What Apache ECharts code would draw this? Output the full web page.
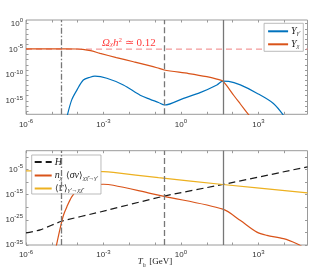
<!DOCTYPE html>
<html><head><meta charset="utf-8">
<script src="https://cdn.jsdelivr.net/npm/echarts@6/dist/echarts.min.js"></script>
<style>html,body{margin:0;padding:0;background:#fff}#c{width:310px;height:275px}</style>
</head><body><div id="c"></div>
<script>
// all values are log10 of the plotted quantity
const xRange = [-6, 4.9];
const xLabelTicks = [-6, -3, 0, 3];
const xMinorTicks = [-6, -5, -4, -3, -2, -1, 0, 1, 2, 3, 4];
const yTopLabelTicks = [-15, -10, -5, 0];
const yTopMinorTicks = [-17, -16, -15, -14, -13, -12, -11, -10, -9, -8, -7, -6, -5, -4, -3, -2, -1, 0];
const yBotLabelTicks = [-35, -25, -15, -5];
const yBotMinorTicks = [-35, -30, -25, -20, -15, -10, -5, 0];

// vertical reference lines (log10 T)
const vDashDot = -4.62;
const vDashed = -0.65;
const vSolid = 1.62;
const omegaLevel = -4.95;

// top panel: Y_chi
const tYchi = [-6, -4.5, -4.0, -3.8, -3.5, -3.13, -2.5, -1.84, -0.93, -0.65, 0.3, 1.0, 1.39, 1.6, 1.75, 2.04, 2.3, 2.7];
const yYchi = [-4.9, -4.9, -4.93, -5.0, -5.25, -5.78, -6.6, -7.4, -8.56, -9.0, -9.7, -10.3, -10.76, -11.1, -11.9, -13.9, -15.6, -18.2];
// top panel: Y_gamma'
const tYg = [-4.42, -4.23, -4.03, -3.78, -3.52, -3.33, -2.87, -2.23, -1.58, -1.19, -0.87, -0.63, 0.1, 0.74, 1.39, 1.62, 1.85, 2.3, 2.94, 3.58, 4.0];
const yYg = [-18.2, -14.8, -12.9, -10.95, -10.4, -10.2, -10.6, -11.9, -13.9, -14.7, -15.3, -15.8, -14.5, -13.4, -11.9, -11.15, -11.2, -11.9, -13.5, -15.5, -18.0];

// bottom panel: H
const tH = [-6, -5.45, -4.62, -3.13, -0.65, 1.62, 4.9];
const yH = [-30.2, -29.0, -25.6, -21.9, -15.6, -11.0, -4.0];
// bottom panel: n_chi <sigma v>
const tN = [-4.84, -4.68, -4.55, -4.42, -4.23, -4.0, -3.7, -3.3, -3.0, -2.62, -1.19, -0.65, 1.62, 2.29, 2.94, 3.33, 3.97, 4.49, 4.75];
const yN = [-36, -28.5, -23.2, -19.9, -15.9, -13.3, -11.8, -11.0, -10.9, -11.3, -14.5, -15.7, -20.8, -25.2, -29.9, -31.2, -32.5, -34.5, -36];
// bottom panel: <Gamma>
const tG = [-6, -4, -3, -2.62, -0.87, 1.62, 4.9];
const yG = [-5.6, -5.7, -5.9, -6.2, -8.3, -11.0, -14.3];

const zip = (a, b) => a.map((v, i) => [v, b[i]]);

const BLUE = '#0072BD', ORANGE = '#D95319', YELLOW = '#EDB120', PINK = '#f08080';
const BORDER = '#9a9a9a', TXT = '#333';
const richTick = {
  b: {fontSize: 8, fontFamily: 'Liberation Sans', color: TXT, lineHeight: 12},
  s: {fontSize: 6, fontFamily: 'Liberation Sans', color: TXT, verticalAlign: 'top', lineHeight: 8}
};
const powFmt = v => '{b|10}{s|' + Math.round(v) + '}';

const grids = [
  {left: 26, right: 2.5, top: 20, height: 94.3, show: true, borderColor: BORDER, borderWidth: 1},
  {left: 26, right: 2.5, top: 150.7, height: 94.3, show: true, borderColor: BORDER, borderWidth: 1}
];

function xAx(gi, pos, labels) {
  return {
    type: 'value', gridIndex: gi, position: pos, min: xRange[0], max: xRange[1],
    splitLine: {show: false}, axisLine: {show: false, onZero: false},
    axisTick: {show: true, inside: true, length: 2.5, customValues: xMinorTicks, lineStyle: {color: BORDER}},
    axisLabel: labels ? {show: true, customValues: xLabelTicks, formatter: powFmt, rich: richTick, margin: 4} : {show: false}
  };
}
function yAx(gi, pos, labels, min, max, lt, mt) {
  return {
    type: 'value', gridIndex: gi, position: pos, min: min, max: max,
    splitLine: {show: false}, axisLine: {show: false, onZero: false},
    axisTick: {show: true, inside: true, length: 2.5, customValues: mt, lineStyle: {color: BORDER}},
    axisLabel: labels ? {show: true, customValues: lt, formatter: powFmt, rich: richTick, margin: 3} : {show: false}
  };
}

const vLines = {
  silent: true, symbol: 'none', animation: false,
  label: {show: false},
  data: [
    {xAxis: vDashDot, lineStyle: {type: [6, 2, 1.5, 2], color: '#777', width: 1.3}},
    {xAxis: vDashed, lineStyle: {type: [6, 3], color: '#777', width: 1.3}},
    {xAxis: vSolid, lineStyle: {type: 'solid', color: '#777', width: 1.3}}
  ]
};

const serif = 'Liberation Serif';
const legRich = {
  it: {fontFamily: serif, fontStyle: 'italic', fontSize: 10, color: '#222'},
  rm: {fontFamily: serif, fontSize: 9, color: '#222'},
  sub: {fontFamily: serif, fontStyle: 'italic', fontSize: 6, color: '#222', verticalAlign: 'bottom', lineHeight: 8}
};
const legNames = {
  "Yg": "{it|Y}{sub|γ'}",
  "Ychi": "{it|Y}{sub|χ}",
  "H": "{it|H}",
  "N": "{it|n}{sub|χ} {rm|⟨}{it|σv}{rm|⟩}{sub|χχ̄→γ'}",
  "G": "{rm|⟨Γ⟩}{sub|γ'→χχ̄}"
};

const option = {
  animation: false,
  backgroundColor: '#fff',
  grid: grids,
  xAxis: [xAx(0, 'bottom', true), xAx(0, 'top', false), xAx(1, 'bottom', true), xAx(1, 'top', false)],
  yAxis: [
    yAx(0, 'left', true, -17.6, 0.7, yTopLabelTicks, yTopMinorTicks),
    yAx(0, 'right', false, -17.6, 0.7, yTopLabelTicks, yTopMinorTicks),
    yAx(1, 'left', true, -35, 2.4, yBotLabelTicks, yBotMinorTicks),
    yAx(1, 'right', false, -35, 2.4, yBotLabelTicks, yBotMinorTicks)
  ],
  legend: [
    {
      data: ['Yg', 'Ychi'], orient: 'vertical', right: 6.7, top: 23.3,
      backgroundColor: '#fff', borderColor: '#aaa', borderWidth: 0.8, borderRadius: 0,
      padding: [3, 3, 2, 3], itemGap: 3, itemWidth: 20, itemHeight: 8,
      itemStyle: {opacity: 0},
      formatter: n => legNames[n], textStyle: {rich: legRich, padding: [0, 0, 0, -2]}
    },
    {
      data: ['H', 'N', 'G'], orient: 'vertical', left: 31.7, top: 155,
      backgroundColor: '#fff', borderColor: '#aaa', borderWidth: 0.8, borderRadius: 0,
      padding: [2, 3, 1, 2], itemGap: 2.5, itemWidth: 17, itemHeight: 8,
      itemStyle: {opacity: 0},
      formatter: n => legNames[n], textStyle: {rich: legRich, padding: [0, 0, 0, -2]}
    }
  ],
  series: [
    {
      name: 'OmegaLine', type: 'line', xAxisIndex: 0, yAxisIndex: 0, z: 1, silent: true,
      data: xRange.map(x => [x, omegaLevel]), symbol: 'none',
      lineStyle: {type: [6, 4], color: PINK, width: 1}, itemStyle: {color: PINK},
      markLine: {
        silent: true, symbol: 'none',
        lineStyle: {color: 'rgba(255,255,255,0)', width: 1},
        data: [{yAxis: omegaLevel}],
        label: {
          show: true, position: 'insideStartTop', distance: [76, 1],
          formatter: '{it|Ω}{sub|χ}{it|h}{sup|2}{rm| ≃ 0.12}',
          rich: {
            it: {fontFamily: serif, fontStyle: 'italic', fontSize: 11, color: '#ff3b3b'},
            rm: {fontFamily: serif, fontSize: 11, color: '#ff3b3b'},
            sub: {fontFamily: serif, fontStyle: 'italic', fontSize: 7, color: '#ff3b3b', verticalAlign: 'bottom', lineHeight: 10},
            sup: {fontFamily: serif, fontSize: 7, color: '#ff3b3b', verticalAlign: 'top', lineHeight: 10}
          }
        }
      }
    },
    {name: 'vtop', type: 'line', xAxisIndex: 0, yAxisIndex: 0, data: [], markLine: vLines, z: 2},
    {name: 'vbot', type: 'line', xAxisIndex: 2, yAxisIndex: 2, data: [], markLine: vLines, z: 2},
    {
      name: 'Yg', type: 'line', xAxisIndex: 0, yAxisIndex: 0, data: zip(tYg, yYg), smooth: 0.3,
      symbol: 'none', lineStyle: {color: BLUE, width: 1.2}, itemStyle: {color: BLUE}, clip: true, z: 3
    },
    {
      name: 'Ychi', type: 'line', xAxisIndex: 0, yAxisIndex: 0, data: zip(tYchi, yYchi), smooth: 0.3,
      symbol: 'none', lineStyle: {color: ORANGE, width: 1.2}, itemStyle: {color: ORANGE}, clip: true, z: 4
    },
    {
      name: 'H', type: 'line', xAxisIndex: 2, yAxisIndex: 2, data: zip(tH, yH), smooth: 0.2,
      symbol: 'none', lineStyle: {color: '#1a1a1a', width: 1.2, type: [7, 4]}, itemStyle: {color: '#1a1a1a'}, clip: true, z: 3
    },
    {
      name: 'N', type: 'line', xAxisIndex: 2, yAxisIndex: 2, data: zip(tN, yN), smooth: 0.3,
      symbol: 'none', lineStyle: {color: ORANGE, width: 1.2}, itemStyle: {color: ORANGE}, clip: true, z: 3
    },
    {
      name: 'G', type: 'line', xAxisIndex: 2, yAxisIndex: 2, data: zip(tG, yG), smooth: 0.3,
      symbol: 'none', lineStyle: {color: YELLOW, width: 1.2}, itemStyle: {color: YELLOW}, clip: true, z: 3
    }
  ],
  graphic: [
    {
      type: 'text', left: 'center', top: 256,
      style: {
        text: '{it|T}{sub|h} {rm|[GeV]}',
        rich: {
          it: {fontFamily: serif, fontStyle: 'italic', fontSize: 9, fill: '#222'},
          sub: {fontFamily: serif, fontStyle: 'italic', fontSize: 6, fill: '#222', verticalAlign: 'bottom', lineHeight: 9},
          rm: {fontFamily: serif, fontSize: 9, fill: '#222'}
        }
      },
      x: 12
    }
  ]
};
const chart = echarts.init(document.getElementById('c'), null, {renderer: 'canvas'});
chart.setOption(option);
</script></body></html>
